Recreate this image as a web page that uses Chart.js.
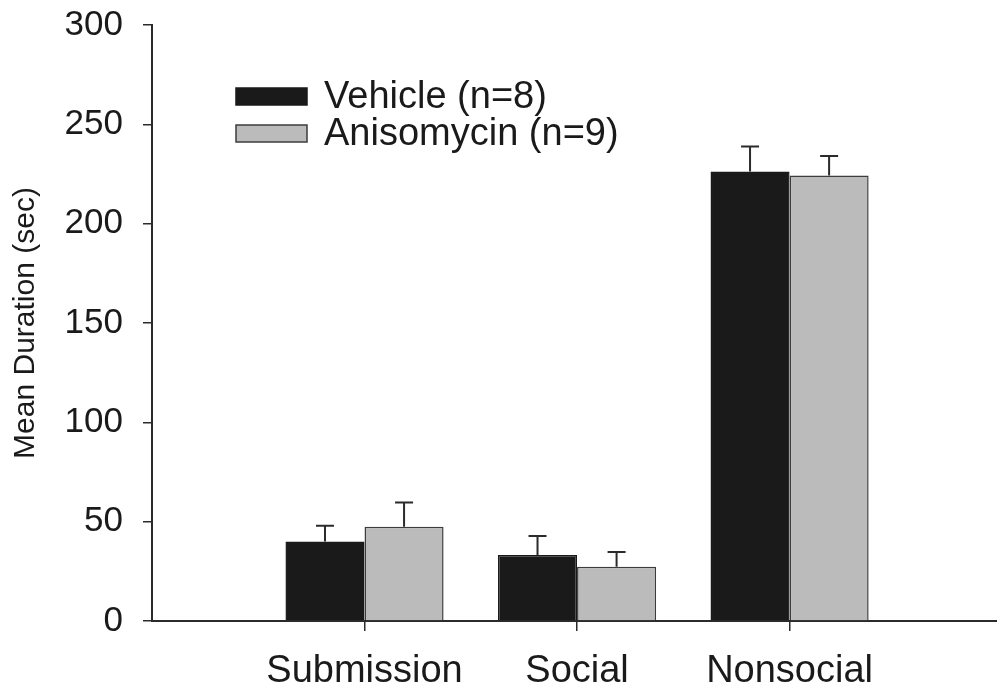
<!DOCTYPE html>
<html>
<head>
<meta charset="utf-8">
<script src="https://cdn.jsdelivr.net/npm/chart.js@4"></script>
<style>
  html, body { margin: 0; padding: 0; background: #fff; }
  #chart { display: block; }
</style>
</head>
<body>
<canvas id="chart" width="997" height="692"></canvas>
<script>
const categories = ["Submission", "Social", "Nonsocial"]
const seriesNames = ["Vehicle (n=8)", "Anisomycin (n=9)"]
const vehicle = [40, 33.2, 226.2]
const vehicleErr = [8, 9.6, 12.7]
const anisomycin = [47.5, 27.3, 224.3]
const anisomycinErr = [12.2, 7.4, 9.7]
const yTicks = [0, 50, 100, 150, 200, 250, 300]

const FONT = "'Liberation Sans', Arial, Helvetica, sans-serif"
const AXIS = "#2b2b2b"

// category i sits at x = i + 1 on a linear axis, so the plot keeps the empty
// space on both sides of the three groups
const toPoints = vals => vals.map((v, i) => ({ x: i + 1, y: v }))

const errorBars = {
    id: "errorBars",
    afterDatasetsDraw(chart) {
        const ctx = chart.ctx
        const yScale = chart.scales.y
        const errs = [vehicleErr, anisomycinErr]
        ctx.save()
        ctx.strokeStyle = AXIS
        ctx.lineWidth = 2
        chart.data.datasets.forEach((ds, d) => {
            chart.getDatasetMeta(d).data.forEach((bar, i) => {
                const top = yScale.getPixelForValue(ds.data[i].y + errs[d][i])
                ctx.beginPath()
                ctx.moveTo(bar.x, bar.y)
                ctx.lineTo(bar.x, top)
                ctx.moveTo(bar.x - 9, top)
                ctx.lineTo(bar.x + 9, top)
                ctx.stroke()
            })
        })
        ctx.restore()
    }
}

const insideLegend = {
    id: "insideLegend",
    afterDraw(chart) {
        const ctx = chart.ctx
        const area = chart.chartArea
        const x0 = area.left + 84
        const y0 = area.top + 63
        ctx.save()
        ctx.font = "38px " + FONT
        ctx.textBaseline = "middle"
        chart.data.datasets.forEach((ds, d) => {
            const y = y0 + d * 37
            ctx.fillStyle = ds.backgroundColor
            ctx.fillRect(x0, y, 71, 17)
            ctx.strokeStyle = ds.borderColor
            ctx.lineWidth = 1.5
            ctx.strokeRect(x0, y, 71, 17)
            ctx.fillStyle = "#1a1a1a"
            ctx.fillText(ds.label, x0 + 88, y + 10)
        })
        ctx.restore()
    }
}

new Chart(document.getElementById("chart"), {
    type: "bar",
    data: {
        datasets: [{
            label: seriesNames[0],
            data: toPoints(vehicle),
            backgroundColor: "#1a1a1a",
            borderColor: "#1a1a1a",
            borderWidth: 1.5
        }, {
            label: seriesNames[1],
            data: toPoints(anisomycin),
            backgroundColor: "#bbbbbb",
            borderColor: "#3c3c3c",
            borderWidth: 1.5
        }]
    },
    options: {
        responsive: false,
        animation: false,
        devicePixelRatio: 1,
        categoryPercentage: 0.744,
        barPercentage: 1,
        layout: { padding: { top: 25, right: 0, bottom: 0, left: 0 } },
        plugins: {
            legend: { display: false },
            tooltip: { enabled: false }
        },
        scales: {
            x: {
                type: "linear",
                offset: false,
                min: 0,
                max: 3.976,
                afterBuildTicks: scale => {
                    scale.ticks = categories.map((c, i) => ({ value: i + 1 }))
                },
                afterFit: scale => {
                    scale.height = 71
                    scale.paddingLeft = 0
                    scale.paddingRight = 0
                },
                ticks: {
                    autoSkip: false,
                    maxRotation: 0,
                    padding: 18,
                    color: "#1a1a1a",
                    font: { family: FONT, size: 38 },
                    callback: v => categories[v - 1]
                },
                grid: {
                    offset: false,
                    drawOnChartArea: false,
                    tickLength: 10,
                    color: AXIS,
                    lineWidth: 1.5
                },
                border: { color: AXIS, width: 2 }
            },
            y: {
                min: 0,
                max: 300,
                afterBuildTicks: scale => {
                    scale.ticks = yTicks.map(v => ({ value: v }))
                },
                afterFit: scale => {
                    scale.width = 152
                    scale.paddingTop = 0
                    scale.paddingBottom = 0
                },
                ticks: {
                    padding: 20,
                    color: "#1a1a1a",
                    font: { family: FONT, size: 35 }
                },
                grid: {
                    drawOnChartArea: false,
                    tickLength: 9,
                    color: AXIS,
                    lineWidth: 1.5
                },
                border: { color: AXIS, width: 2 },
                title: {
                    display: true,
                    text: "Mean Duration (sec)",
                    color: "#1a1a1a",
                    font: { family: FONT, size: 30 },
                    padding: { top: 8, bottom: 0 }
                }
            }
        }
    },
    plugins: [errorBars, insideLegend]
})
</script>
</body>
</html>
